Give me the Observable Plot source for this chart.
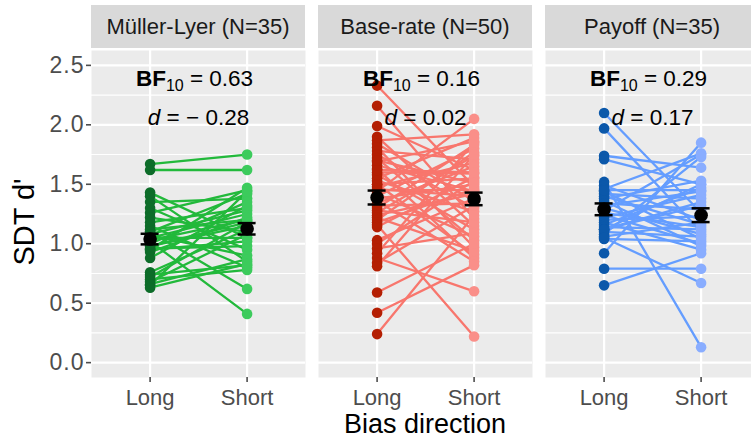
<!DOCTYPE html>
<html>
<head>
<meta charset="utf-8">
<script src="https://cdn.jsdelivr.net/npm/d3@7"></script>
<script src="https://cdn.jsdelivr.net/npm/@observablehq/plot@0.6"></script>
<style>
  html, body { margin: 0; padding: 0; background: white; overflow: hidden; }
  #wrap { position: relative; width: 751px; height: 447px; overflow: hidden; font-family: "Liberation Sans", Arial, Helvetica, sans-serif; }
  #chart { position: absolute; left: 0; top: 0; width: 761px; }
  #chart svg { max-width: none !important; }
  .strip { position: absolute; top: 5px; height: 43px; line-height: 43px; background: #d9d9d9; color: #1a1a1a; font-size: 22px; text-align: center; white-space: nowrap; overflow: hidden; }
  .xtitle { position: absolute; top: 413px; font-size: 27px; line-height: 23px; color: #000; text-align: center; white-space: nowrap; }
  .ytitle { position: absolute; left: 24px; top: 222px; font-size: 29px; line-height: 29px; color: #000; white-space: nowrap; transform: translate(-50%, -50%) rotate(-90deg); }
</style>
</head>
<body>
<div id="wrap"><div id="chart"></div></div>
<script>
// ---- data ----
const tasks = ["Müller-Lyer", "Base-rate", "Payoff"];
const stripLabels = ["Müller-Lyer (N=35)", "Base-rate (N=50)", "Payoff (N=35)"];
const conditions = ["Long", "Short"];
const bfValues = ["0.63", "0.16", "0.29"];
const dValues = ["\u2212 0.28", "0.02", "0.17"];
const yTicks = [0, 0.5, 1, 1.5, 2, 2.5];
const yMinor = [0.25, 0.75, 1.25, 1.75, 2.25];
const xTitle = "Bias direction";
const yTitle = "SDT d'";

const mlLong  = [1.67,1.62,1.43,1.40,1.35,1.30,1.26,1.22,1.18,1.15,1.12,1.10,1.07,1.05,1.02,1.00,0.98,1.10,1.08,1.05,1.03,0.98,0.96,0.95,0.93,0.88,0.76,0.74,0.72,0.70,0.68,0.66,0.65,0.63,0.95];
const mlShort = [1.75,1.62,1.05,0.85,1.38,0.95,1.45,1.10,1.30,0.80,1.20,1.42,0.90,1.25,0.41,1.35,1.15,0.62,1.28,1.05,1.20,1.18,0.98,1.47,1.22,1.32,1.12,0.82,1.18,0.78,1.08,0.87,1.44,0.83,1.02];

const brLong  = [2.33,2.16,1.99,1.90,1.87,1.84,1.81,1.78,1.75,1.72,1.69,1.66,1.63,1.60,1.58,1.55,1.53,1.50,1.48,1.46,1.44,1.42,1.40,1.38,1.36,1.34,1.32,1.30,1.28,1.26,1.24,1.22,1.20,1.18,1.16,1.14,1.03,1.00,0.96,0.92,0.88,0.84,0.81,0.59,0.42,0.24,1.50,1.45,1.62,1.70];
const brShort = [1.48,1.21,1.62,1.15,1.92,1.36,0.97,1.71,1.30,1.03,1.86,1.44,0.88,1.59,1.12,1.89,1.27,0.91,1.68,1.40,2.05,1.06,1.80,1.50,0.85,1.65,1.34,1.83,1.18,1.74,1.42,0.94,1.77,1.46,0.22,1.56,1.38,1.53,1.09,1.85,0.60,1.32,1.75,1.00,0.82,1.24,1.55,1.45,1.60,1.51];

const poLong  = [2.10,1.97,1.74,1.71,1.52,1.49,1.46,1.44,1.42,1.40,1.38,1.36,1.34,1.32,1.30,1.28,1.26,1.24,1.22,1.20,1.18,1.16,1.14,1.12,1.10,1.08,1.06,1.04,1.12,1.12,1.05,0.92,0.79,0.65,1.45];
const poShort = [1.26,1.10,1.64,1.50,0.13,1.20,1.76,1.04,1.38,1.16,1.53,0.98,1.29,1.44,1.08,1.75,1.14,1.00,1.41,1.23,0.95,1.47,1.12,1.35,1.06,1.73,1.18,1.02,1.32,1.50,0.67,1.85,0.79,0.92,1.45];

const longByTask = [mlLong, brLong, poLong];
const shortByTask = [mlShort, brShort, poShort];

const lineColors = {"Müller-Lyer": "#22b93b", "Base-rate": "#f8766d", "Payoff": "#649dff"};
const pointColors = {
  "Müller-Lyer": {Long: "#0d6c29", Short: "#3ccb5c"},
  "Base-rate":   {Long: "#b41f03", Short: "#fa8f89"},
  "Payoff":      {Long: "#0b58aa", Short: "#89adff"}
};

// ---- build tables ----
const rows = [];
tasks.forEach((t, ti) => {
  longByTask[ti].forEach((v, i) => {
    rows.push({task: t, id: t + i, cond: "Long", v});
    rows.push({task: t, id: t + i, cond: "Short", v: shortByTask[ti][i]});
  });
});
const means = [];
tasks.forEach((t, ti) => {
  [["Long", longByTask[ti]], ["Short", shortByTask[ti]]].forEach(([c, arr]) => {
    const m = d3.mean(arr), se = d3.deviation(arr) / Math.sqrt(arr.length);
    means.push({task: t, cond: c, m, lo: m - se, hi: m + se});
  });
});
const annots = tasks.map((t, i) => ({task: t, bf: bfValues[i], d: dValues[i]}));

const white = {stroke: "white", strokeOpacity: 1};
const plot = Plot.plot({
  width: 761,
  height: 447,
  marginTop: 50,
  marginBottom: 70,
  marginLeft: 90.4,
  marginRight: 0.6,
  style: {fontFamily: "'Liberation Sans', Arial, Helvetica, sans-serif", fontSize: "22px", background: "white", overflow: "visible", maxWidth: "none"},
  fx: {domain: tasks, paddingInner: 0.0554, paddingOuter: 0, axis: null, label: null},
  x: {type: "band", domain: conditions, paddingInner: 0.816, paddingOuter: 0.508, axis: null, label: null},
  y: {domain: [-0.125, 2.625], axis: null, label: null},
  marks: [
    Plot.frame({fill: "#ebebeb", stroke: "none"}),
    Plot.gridY(yMinor, {...white, strokeWidth: 1.1}),
    Plot.gridY(yTicks, {...white, strokeWidth: 2.2}),
    Plot.gridX(conditions, {...white, strokeWidth: 2.2}),
    Plot.axisY(yTicks, {tickFormat: d3.format(".1f"), tickSize: 5, tickPadding: 2, fontSize: 23, color: "#4d4d4d", strokeWidth: 1.6, label: null}),
    Plot.axisX(conditions, {tickSize: 5, tickPadding: 7, fontSize: 22, color: "#4d4d4d", strokeWidth: 1.6, label: null}),
    Plot.line(rows, {fx: "task", x: "cond", y: "v", z: "id", stroke: d => lineColors[d.task], strokeWidth: 2.3}),
    Plot.dot(rows, {fx: "task", x: "cond", y: "v", r: 5.3, fill: d => pointColors[d.task][d.cond]}),
    Plot.ruleX(means, {fx: "task", x: "cond", y1: "lo", y2: "hi", stroke: "black", strokeWidth: 2.5}),
    Plot.tickY(means, {fx: "task", x: "cond", y: "lo", stroke: "black", strokeWidth: 2.5}),
    Plot.tickY(means, {fx: "task", x: "cond", y: "hi", stroke: "black", strokeWidth: 2.5}),
    Plot.dot(means, {fx: "task", x: "cond", y: "m", r: 6.8, fill: "black"}),
    Plot.text(annots, {fx: "task", text: d => "BF10 = " + d.bf, frameAnchor: "top", dy: 20, dx: -4, fontSize: 22.5, fill: "black"}),
    Plot.text(annots, {fx: "task", text: d => "d = " + d.d, frameAnchor: "top", dy: 59, fontSize: 22.5, fill: "black"})
  ]
});
plot.style.maxWidth = "none";
document.getElementById("chart").appendChild(plot);

// rich text for annotations
const NS = "http://www.w3.org/2000/svg";
function tspan(txt, attrs) {
  const s = document.createElementNS(NS, "tspan");
  s.textContent = txt;
  for (const k in attrs) s.setAttribute(k, attrs[k]);
  return s;
}
plot.querySelectorAll("text").forEach(el => {
  const s = el.textContent;
  if (s.startsWith("BF10 = ")) {
    el.textContent = "";
    el.appendChild(tspan("BF", {"font-weight": "bold"}));
    el.appendChild(tspan("10", {"font-size": "16", dy: "5"}));
    el.appendChild(tspan(s.slice(4), {dy: "-5"}));
  } else if (s.startsWith("d = ")) {
    el.textContent = "";
    el.appendChild(tspan("d", {"font-style": "italic"}));
    el.appendChild(tspan(s.slice(1)));
  }
});
// wider tick digits on the y axis
plot.querySelectorAll("text").forEach(el => {
  if (/^\d\.\d$/.test(el.textContent)) el.setAttribute("letter-spacing", "1");
});

// strips and titles as HTML
const wrap = document.getElementById("wrap");
const fx = plot.scale("fx");
const bw = fx.bandwidth;
tasks.forEach((t, i) => {
  const div = document.createElement("div");
  div.className = "strip";
  div.style.left = fx.apply(t) + "px";
  div.style.width = bw + "px";
  div.textContent = stripLabels[i];
  wrap.appendChild(div);
});
const left = fx.apply(tasks[0]), right = fx.apply(tasks[tasks.length - 1]) + bw;
const xt = document.createElement("div");
xt.className = "xtitle";
xt.style.left = left + "px";
xt.style.width = (right - left) + "px";
xt.textContent = xTitle;
wrap.appendChild(xt);
const yt = document.createElement("div");
yt.className = "ytitle";
yt.textContent = yTitle;
wrap.appendChild(yt);
</script>
</body>
</html>
